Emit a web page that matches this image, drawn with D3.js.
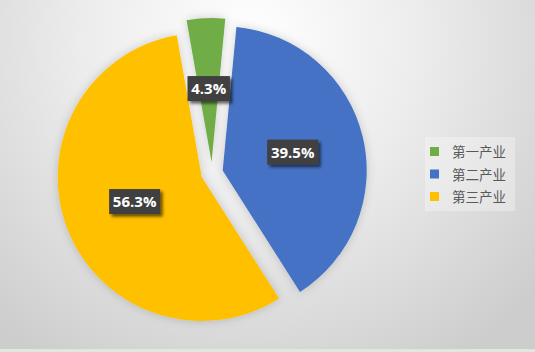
<!DOCTYPE html>
<html>
<head>
<meta charset="utf-8">
<script src="https://cdn.jsdelivr.net/npm/d3@7"></script>
<style>
  html, body { margin: 0; padding: 0; }
  body { width: 535px; height: 352px; overflow: hidden; }
</style>
</head>
<body>
<div id="chart"></div>
<script>
// share of each industry
const CATEGORIES = ["第一产业", "第二产业", "第三产业"]
const VALUES = [4.3, 39.5, 56.3]
const LABELS = ["4.3%", "39.5%", "56.3%"]
const COLORS = ["#70AD47", "#4472C4", "#FFC000"]

const WIDTH = 535
const HEIGHT = 352
const CX = 212
const CY = 173
const RADIUS = 144
const EXPLODE = 11
const START = -10 * Math.PI / 180

const svg = d3.select("#chart")
  .append("svg")
  .attr("width", WIDTH)
  .attr("height", HEIGHT)

const defs = svg.append("defs")

// light radial background
const bg = defs.append("radialGradient")
  .attr("id", "bg")
  .attr("gradientUnits", "userSpaceOnUse")
  .attr("cx", 250).attr("cy", 40).attr("r", 380)
bg.append("stop").attr("offset", "0%").attr("stop-color", "#ffffff")
bg.append("stop").attr("offset", "45%").attr("stop-color", "#ececec")
bg.append("stop").attr("offset", "100%").attr("stop-color", "#cdcdcd")

const glow = defs.append("filter").attr("id", "glow")
  .attr("x", "-20%").attr("y", "-20%").attr("width", "140%").attr("height", "140%")
glow.append("feDropShadow")
  .attr("dx", 0).attr("dy", 0).attr("stdDeviation", 5)
  .attr("flood-color", "#000").attr("flood-opacity", 0.18)

const boxShadow = defs.append("filter").attr("id", "boxShadow")
  .attr("x", "-30%").attr("y", "-40%").attr("width", "160%").attr("height", "190%")
boxShadow.append("feDropShadow")
  .attr("dx", 2.5).attr("dy", 2.5).attr("stdDeviation", 1.8)
  .attr("flood-color", "#000").attr("flood-opacity", 0.6)

svg.append("rect")
  .attr("width", WIDTH)
  .attr("height", HEIGHT)
  .attr("fill", "url(#bg)")

svg.append("rect")
  .attr("x", 0).attr("y", HEIGHT - 3)
  .attr("width", WIDTH).attr("height", 3)
  .attr("fill", "#dfe7df")

const pie = d3.pie()
  .sort(null)
  .startAngle(START)
  .endAngle(START + 2 * Math.PI)

const arcs = pie(VALUES)

const arc = d3.arc()
  .innerRadius(0)
  .outerRadius(RADIUS)

// push each slice out along its middle angle
const offset = (d) => {
  const a = (d.startAngle + d.endAngle) / 2
  return [EXPLODE * Math.sin(a), -EXPLODE * Math.cos(a)]
}

const slices = svg.append("g")
  .attr("transform", `translate(${CX},${CY})`)
  .attr("filter", "url(#glow)")

slices.selectAll("path")
  .data(arcs)
  .enter()
  .append("path")
  .attr("d", arc)
  .attr("fill", (d, i) => COLORS[i])
  .attr("transform", (d) => `translate(${offset(d)})`)

const labels = svg.append("g")
  .attr("transform", `translate(${CX},${CY})`)

labels.selectAll("g")
  .data(arcs)
  .enter()
  .append("g")
  .attr("transform", (d) => {
    const [ox, oy] = offset(d)
    const [x, y] = arc.centroid(d)
    return `translate(${x + ox},${y + oy - 2})`
  })
  .each(function (d, i) {
    const g = d3.select(this)
    const w = LABELS[i].length * 8.6 + 8
    g.append("rect")
      .attr("x", -w / 2).attr("y", -12)
      .attr("width", w).attr("height", 25)
      .attr("fill", "#404040")
      .attr("filter", "url(#boxShadow)")
    g.append("text")
      .attr("text-anchor", "middle")
      .attr("y", 6)
      .attr("font-family", "'Open Sans', 'DejaVu Sans', sans-serif")
      .attr("font-weight", "bold")
      .attr("font-size", 15)
      .attr("fill", "#ffffff")
      .text(LABELS[i])
  })

// legend
const legend = svg.append("g")
  .attr("transform", "translate(425,137)")

legend.append("rect")
  .attr("width", 90)
  .attr("height", 74)
  .attr("fill", "#ffffff")
  .attr("fill-opacity", 0.3)

const rows = legend.selectAll("g.row")
  .data(CATEGORIES)
  .enter()
  .append("g")
  .attr("class", "row")
  .attr("transform", (d, i) => `translate(0,${15 + i * 22.5})`)

rows.append("rect")
  .attr("x", 5).attr("y", -5)
  .attr("width", 9).attr("height", 9)
  .attr("fill", (d, i) => COLORS[i])

rows.append("text")
  .attr("x", 27)
  .attr("y", 5)
  .attr("font-family", "'Noto Sans CJK SC', sans-serif")
  .attr("font-size", 13.5)
  .attr("fill", "#595959")
  .text((d) => d)
</script>
</body>
</html>
